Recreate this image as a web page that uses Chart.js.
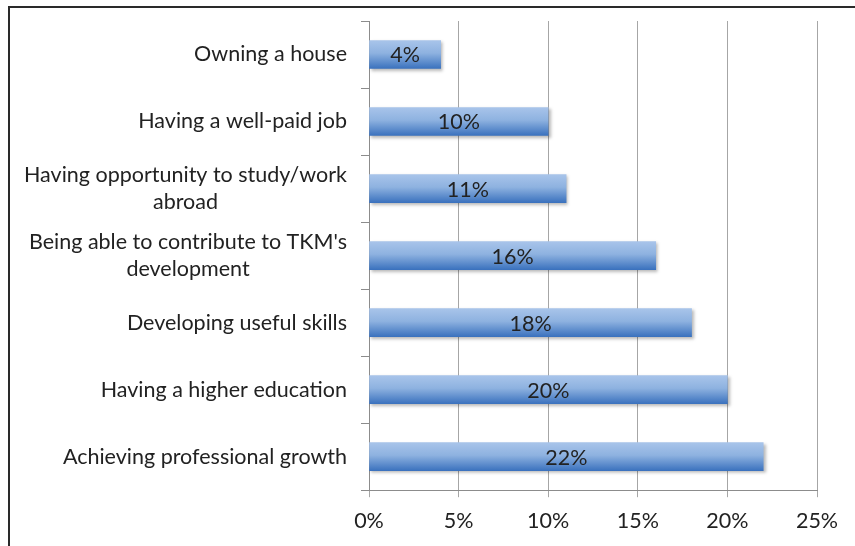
<!DOCTYPE html>
<html>
<head>
<meta charset="utf-8">
<script src="https://cdn.jsdelivr.net/npm/chart.js@4/dist/chart.umd.min.js"></script>
<style>
    html, body { margin: 0; padding: 0; background: #fff; overflow: hidden; }
    #wrap { position: relative; width: 855px; height: 546px; }
    #frame {
        position: absolute; left: 8px; top: 6px; width: 900px; height: 600px;
        border-left: 2px solid #2a2a2a; border-top: 2px solid #2a2a2a;
    }
    #myChart { position: absolute; left: 0; top: 0; }
</style>
</head>
<body>
<div id="wrap">
    <div id="frame"></div>
    <canvas id="myChart" width="855" height="546"></canvas>
</div>
<script>
let categories = [
    ['Owning a house'],
    ['Having a well-paid job'],
    ['Having opportunity to study/work', 'abroad'],
    ["Being able to contribute to TKM's", 'development'],
    ['Developing useful skills'],
    ['Having a higher education'],
    ['Achieving professional growth']
];
let shares = [4, 10, 11, 16, 18, 20, 22];
let x_ticks = [0, 5, 10, 15, 20, 25];

let font_family = "Lato, 'Open Sans', sans-serif";
let font_size = 21.5;
let text_color = '#222222';
let bar_thickness = 28;

// light-to-dark blue fill across each bar's height
function barFill(ctx) {
    let chart = ctx.chart;
    let y_scale = chart.scales.y;
    if (!y_scale || ctx.dataIndex === undefined) return '#6f98d2';
    let cy = y_scale.getPixelForValue(ctx.dataIndex);
    if (!isFinite(cy)) return '#6f98d2';
    let g = chart.ctx.createLinearGradient(0, cy - bar_thickness / 2, 0, cy + bar_thickness / 2);
    g.addColorStop(0, '#a8c4ea');
    g.addColorStop(0.45, '#8eb2e0');
    g.addColorStop(1, '#3b72be');
    return g;
}

let barExtras = {
    id: 'barExtras',
    beforeDatasetsDraw(chart) {
        let c = chart.ctx;
        c.save();
        c.shadowColor = 'rgba(0,0,0,0.28)';
        c.shadowOffsetX = 2;
        c.shadowOffsetY = 2;
        c.shadowBlur = 3;
    },
    afterDatasetsDraw(chart) {
        let c = chart.ctx;
        c.restore();
        c.save();
        c.font = font_size + 'px ' + font_family;
        c.fillStyle = text_color;
        c.textAlign = 'center';
        c.textBaseline = 'middle';
        chart.getDatasetMeta(0).data.forEach(function (bar, i) {
            c.fillText(shares[i] + '%', (bar.base + bar.x) / 2, bar.y + 1);
        });
        c.restore();
    },
    afterDraw(chart) {
        // category labels: right aligned block, lines centred within it
        let c = chart.ctx;
        let y_scale = chart.scales.y;
        let right = 347;
        let line_h = 27;
        c.save();
        c.font = font_size + 'px ' + font_family;
        c.fillStyle = text_color;
        c.textAlign = 'center';
        c.textBaseline = 'middle';
        categories.forEach(function (lines, i) {
            let w = Math.max.apply(null, lines.map(l => c.measureText(l).width));
            let cy = y_scale.getPixelForValue(i);
            let y0 = cy - (lines.length - 1) * line_h / 2;
            lines.forEach(function (l, k) {
                c.fillText(l, right - w / 2, y0 + k * line_h);
            });
        });
        c.restore();
    }
};

new Chart('myChart', {
    type: 'bar',
    data: {
        labels: categories.map(l => l.join(' ')),
        datasets: [{
            data: shares,
            backgroundColor: barFill,
            borderWidth: 0,
            barThickness: bar_thickness
        }]
    },
    options: {
        indexAxis: 'y',
        responsive: false,
        animation: false,
        layout: {padding: {left: 361, right: 38, top: 21, bottom: 1}},
        plugins: {
            legend: {display: false},
            tooltip: {enabled: false}
        },
        scales: {
            x: {
                min: x_ticks[0],
                max: x_ticks[x_ticks.length - 1],
                afterBuildTicks: axis => { axis.ticks = x_ticks.map(v => ({value: v})); },
                grid: {color: '#a6a6a6', lineWidth: 1, tickLength: 7},
                border: {color: '#8c8c8c'},
                ticks: {
                    padding: 11,
                    color: text_color,
                    font: {family: font_family, size: font_size},
                    callback: v => v + '%',
                    maxRotation: 0
                }
            },
            y: {
                offset: true,
                grid: {drawOnChartArea: false, tickLength: 8, color: '#8c8c8c', offset: true},
                border: {color: '#8c8c8c'},
                ticks: {display: false}
            }
        }
    },
    plugins: [barExtras]
});
</script>
</body>
</html>
